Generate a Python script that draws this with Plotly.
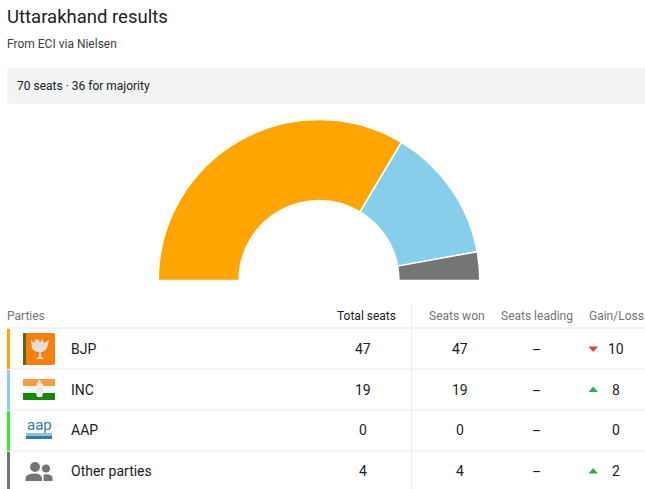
import plotly.graph_objects as go

W, H = 645, 489
parties = ["BJP", "INC", "AAP", "Other parties"]
total_seats = [47, 19, 0, 4]
seats_won = [47, 19, 0, 4]
seats_leading = ["–", "–", "–", "–"]
gain_loss = [10, 8, 0, 2]
gain_dir = ["down", "up", "none", "up"]
colors = ["#FFA500", "#87CEEB", "#32EE32", "#757575"]
headers = ["Total seats", "Seats won", "Seats leading", "Gain/Loss"]
majority = 36
seats = 70

FONT = "Roboto, Arial, sans-serif"
DARK = "#202124"
GREY = "#70757a"
LINE = "#e8eaed"

fig = go.Figure()

# half donut
cx, cy, R = 319, 280.4, 160.8
fig.add_trace(go.Pie(
    values=total_seats + [seats], labels=parties + ["hidden"],
    sort=False, direction="clockwise", rotation=-90, hole=0.497,
    marker=dict(colors=colors + ["rgba(0,0,0,0)"], line=dict(color="white", width=[1.5, 1.5, 0, 1.5, 0])),
    textinfo="none", hoverinfo="skip", showlegend=False,
    domain=dict(x=[(cx - R) / W, (cx + R) / W], y=[1 - (cy + R) / H, 1 - (cy - R) / H]),
))

shapes, ann = [], []


def rect(x0, y0, x1, y1, color):
    shapes.append(dict(type="rect", xref="x", yref="y", x0=x0, y0=y0, x1=x1, y1=y1,
                       fillcolor=color, line=dict(width=0), layer="above"))


def path(d, color):
    shapes.append(dict(type="path", xref="x", yref="y", path=d, fillcolor=color,
                       line=dict(width=0), layer="above"))


def circle(x, y, r, color):
    shapes.append(dict(type="circle", xref="x", yref="y", x0=x - r, y0=y - r, x1=x + r, y1=y + r,
                       fillcolor=color, line=dict(width=0), layer="above"))


def text(x, y, s, size=13, color=DARK, anchor="center"):
    ann.append(dict(xref="x", yref="y", x=x, y=y, text=s, showarrow=False, xanchor=anchor, yanchor="middle",
                    xshift=-2 if anchor == "left" else 0,
                    font=dict(family=FONT, size=size, color=color)))


# heading
text(7, 16.5, "Uttarakhand results", 18.5, DARK, "left")
text(7, 44, "From ECI via Nielsen", 12, "#3c4043", "left")
path("M645,68 L11,68 Q7,68 7,72 L7,100 Q7,104 11,104 L645,104 Z", "#f1f3f4")
text(17, 86, f"{seats} seats · {majority} for majority", 12, DARK, "left")

# table header
row_lines = [328, 369, 410, 451]
row_mid = [349, 389.5, 430, 471]
text(7, 316, "Parties", 12, GREY, "left")
header_x = [366.5, 456.5, 536.5, 616.5]
header_c = [DARK, GREY, GREY, GREY]
for hx, h, c in zip(header_x, headers, header_c):
    text(hx, 316, h, 12, c)
for y in row_lines:
    rect(7, y - 0.5, W, y + 0.5, LINE)
rect(411, 304, 412, H, LINE)

for i, p in enumerate(parties):
    top = row_lines[i]
    mid = row_mid[i]
    rect(7, top + 1, 10, min(top + 41, H), colors[i])
    text(71, mid, p, 14, DARK, "left")
    text(362.5, mid, str(total_seats[i]), 14)
    text(460, mid, str(seats_won[i]), 14)
    text(536.5, mid + 1, seats_leading[i], 14)
    text(615.5, mid, str(gain_loss[i]), 14)
    if gain_dir[i] == "down":
        path(f"M588.5,{mid-2.5} L598,{mid-2.5} L593.2,{mid+3} Z", "#ea4335")
    elif gain_dir[i] == "up":
        path(f"M588.5,{mid+2.5} L598,{mid+2.5} L593.2,{mid-3} Z", "#34a853")

# BJP logo
path("M25,333 L53,333 Q55,333 55,335 L55,363 Q55,365 53,365 L25,365 Q23,365 23,363 L23,335 Q23,333 25,333 Z", "#F77F0E")
rect(23, 333, 26, 365, "#4E6B22")
path("M31,340 L34,343 L36,339 L39,340 L40,343 L42,339 L44,343 L49,340 L47,348 Q44,352 41,352 L41,356 L44,359 L36,359 L39,356 L39,352 Q34,352 32,348 Z", "#E6DED6")
# INC logo
rect(23, 379, 55, 386, "#FF9A3D")
rect(23, 386, 55, 393, "#FFFFFF")
rect(23, 393, 55, 400, "#138808")
path("M36,388 L37,383 L39,380 L40,380 L41,383 L43,384 L44,390 L42,397 L37,397 L36,393 Z", "#ECECE6")
# AAP logo
ann.append(dict(xref="x", yref="y", x=39, y=425, text="aap", showarrow=False, xanchor="center", yanchor="middle",
                font=dict(family=FONT, size=15, color="#2B7BB9")))
rect(26, 433.5, 52, 434.5, "#2B7BB9")
rect(26, 435.5, 52, 439, "#2B7BB9")
# other parties icon
G = "#757575"
circle(35, 467, 5, G)
circle(46, 468.5, 4, G)
path("M25.5,481 L25.5,478 Q26,473.5 35,473.5 Q41,473.5 42,478 L42,481 Z", G)
path("M43.5,474.5 Q52,473.5 52.5,478 L52.5,481 L43.5,481 Z", G)

fig.update_layout(
    width=W, height=H, autosize=False,
    margin=dict(l=0, r=0, t=0, b=0),
    paper_bgcolor="white", plot_bgcolor="rgba(0,0,0,0)",
    xaxis=dict(range=[0, W], visible=False, fixedrange=True),
    yaxis=dict(range=[H, 0], visible=False, fixedrange=True),
    shapes=shapes, annotations=ann, showlegend=False,
)
fig.add_trace(go.Scatter(x=[0], y=[0], mode="markers", marker=dict(opacity=0), hoverinfo="skip", showlegend=False))
fig.write_html("out.html", config=dict(displayModeBar=False),
               post_script="document.body.style.margin='0';document.body.style.overflow='hidden';")
